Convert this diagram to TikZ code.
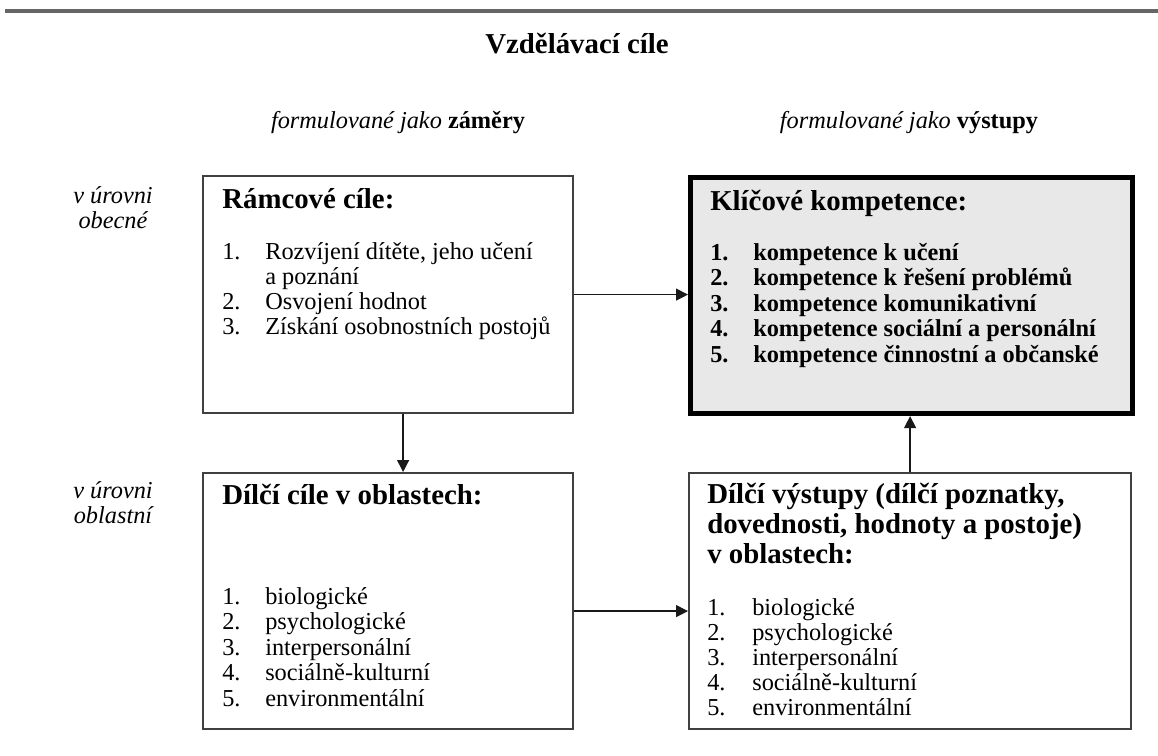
\documentclass[tikz,border=0pt]{standalone}
\usepackage{fontspec}
\setmainfont{Liberation Serif}
\usetikzlibrary{arrows.meta}

\begin{document}
\begin{tikzpicture}[x=0.025cm,y=-0.025cm,-{Triangle[length=8.5pt,width=8.5pt]},draw=black!75]
	\tikzstyle{box}=[rectangle,draw=black!75,line width=1.5pt,anchor=north west,inner sep=0pt]
	\tikzstyle{keybox}=[rectangle,draw=black,fill=black!9,line width=3.6pt,anchor=north west,inner sep=0pt]
	\tikzstyle{head}=[anchor=base west,inner sep=0pt,font=\fontsize{20.5}{21.3}\selectfont\bfseries]
	\tikzstyle{item}=[anchor=base west,inner sep=0pt,font=\fontsize{17.3}{17.8}\selectfont]
	\tikzstyle{bitem}=[item,font=\fontsize{17.3}{17.8}\selectfont\bfseries]
	\tikzstyle{level}=[inner sep=0pt,anchor=base,font=\fontsize{17.3}{17.8}\selectfont\itshape]
	\tikzstyle{arr}=[line width=0.9pt,draw=black!90,fill=black]

	\useasboundingbox (0,0) rectangle (1158,756);
	\draw[-,draw=black!60,line width=2.2pt] (5,11) -- (1158,11);

	\node[inner sep=0pt,anchor=base,font=\fontsize{20.5}{21.3}\selectfont\bfseries] (title) at (577,53) {Vzdělávací cíle};
	\node[level] (zamery) at (398,128) {formulované jako \textbf{\upshape záměry}};
	\node[level] (vystupy) at (909,128) {formulované jako \textbf{\upshape výstupy}};

	\node[level] (obecne1) at (113,203) {v úrovni};
	\node[level] (obecne2) at (113,228) {obecné};
	\node[level] (oblastni1) at (113,498) {v úrovni};
	\node[level] (oblastni2) at (113,523) {oblastní};

	% boxes
	\node[box,minimum width=9.25cm,minimum height=5.925cm] (rc) at (202,175) {};
	\node[keybox,minimum width=11.05cm,minimum height=5.9cm] (kk) at (688,175) {};
	\node[box,minimum width=11.05cm,minimum height=6.4cm] (dv) at (688,472) {};
	\node[box,minimum width=9.25cm,minimum height=6.4cm] (dc) at (202,472) {};

	% Ramcove cile
	\node[head] (rc-head) at (222,208) {Rámcové cíle:};
	\node[item] (rc1n) at (222,259) {1.};
	\node[item] (rc1) at (265,259) {Rozvíjení dítěte, jeho učení};
	\node[item] (rc1b) at (265,284) {a poznání};
	\node[item] (rc2n) at (222,309) {2.};
	\node[item] (rc2) at (265,309) {Osvojení hodnot};
	\node[item] (rc3n) at (222,334) {3.};
	\node[item] (rc3) at (265,334) {Získání osobnostních postojů};

	% Klicove kompetence
	\node[head] (kk-head) at (710,210) {Klíčové kompetence:};
	\foreach \t [count=\i] in {kompetence k učení,kompetence k řešení problémů,kompetence komunikativní,kompetence sociální a personální,kompetence činnostní a občanské}{
		\node[bitem] (kk\i n) at (710,260+25.5*\i-25.5) {\i.};
		\node[bitem] (kk\i) at (753,260+25.5*\i-25.5) {\t};
	}

	% Dilci cile
	\node[head] (dc-head) at (222,504) {Dílčí cíle v oblastech:};
	\foreach \t [count=\i] in {biologické,psychologické,interpersonální,sociálně-kulturní,environmentální}{
		\node[item] (dc\i n) at (222,604+25.5*\i-25.5) {\i.};
		\node[item] (dc\i) at (265,604+25.5*\i-25.5) {\t};
	}

	% Dilci vystupy
	\node[head] (dv-head1) at (707,503) {Dílčí výstupy (dílčí poznatky,};
	\node[head] (dv-head2) at (707,533) {dovednosti, hodnoty a postoje)};
	\node[head] (dv-head3) at (707,563) {v oblastech:};
	\foreach \t [count=\i] in {biologické,psychologické,interpersonální,sociálně-kulturní,environmentální}{
		\node[item] (dv\i n) at (707,615+25*\i-25) {\i.};
		\node[item] (dv\i) at (752,615+25*\i-25) {\t};
	}

	% arrows
	\draw[arr] (rc.east) -- (rc.east -| kk.west);
	\draw[arr] ([xshift=0.375cm]rc.south) -- ([xshift=0.375cm]dc.north);
	\draw[arr] (dv.north) -- (dv.north |- kk.south);
	\draw[arr] ([yshift=-0.25cm]dc.east) -- ([yshift=-0.25cm]dv.west);
\end{tikzpicture}
\end{document}
